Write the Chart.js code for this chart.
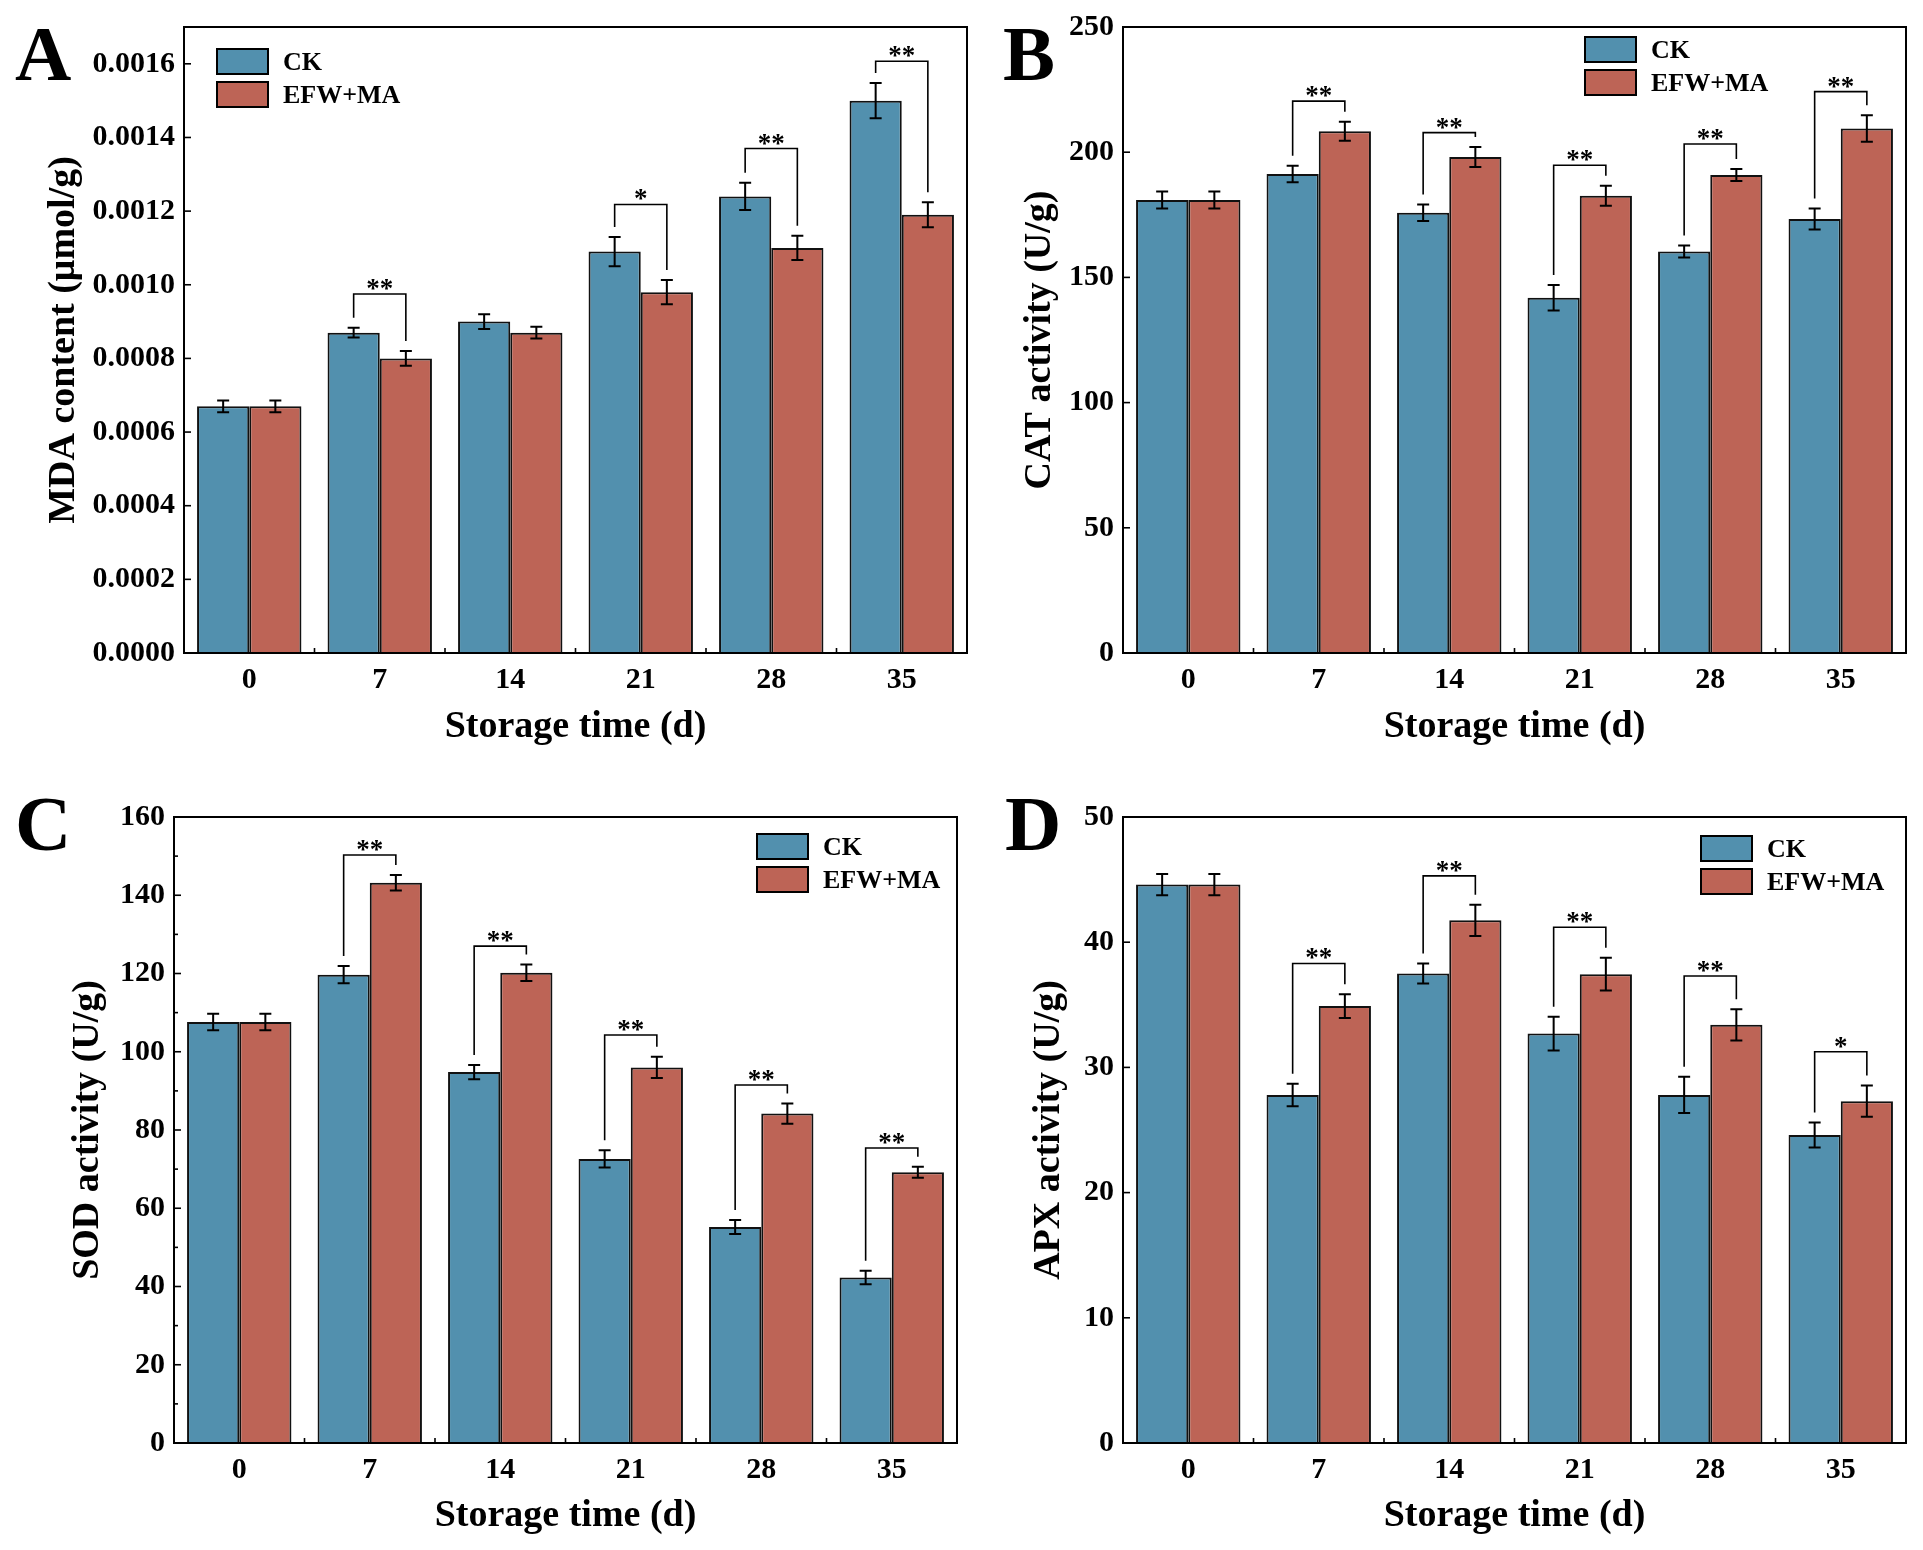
<!DOCTYPE html>
<html>
<head>
<meta charset="utf-8">
<script src="https://cdn.jsdelivr.net/npm/chart.js@4.4.1/dist/chart.umd.min.js"></script>
<style>
  html, body { margin: 0; padding: 0; background: #fff; }
  #wrap { position: relative; width: 1923px; height: 1550px; }
  canvas { position: absolute; }
</style>
</head>
<body>
<div id="wrap">
  <canvas id="cA" width="975" height="775" style="left:0;top:0"></canvas>
  <canvas id="cB" width="948" height="775" style="left:975px;top:0"></canvas>
  <canvas id="cC" width="975" height="775" style="left:0;top:775px"></canvas>
  <canvas id="cD" width="948" height="775" style="left:975px;top:775px"></canvas>
</div>
<script>
'use strict'

// storage days and groups
var days = ['0', '7', '14', '21', '28', '35'];
var groups = ['CK', 'EFW+MA'];

// A - MDA content (umol/g)
var mdaCK = [0.00067, 0.00087, 0.00090, 0.00109, 0.00124, 0.00150];
var mdaEFW = [0.00067, 0.00080, 0.00087, 0.00098, 0.00110, 0.00119];
var mdaCKErr = [0.000016, 0.000013, 0.00002, 0.00004, 0.000037, 0.000048];
var mdaEFWErr = [0.000016, 0.00002, 0.000016, 0.000033, 0.000033, 0.000034];
var mdaSig = ['', '**', '', '*', '**', '**'];
var mdaSigLevel = [null, 0.000975, null, 0.001218, 0.00137, 0.001607];

// B - CAT activity (U/g)
var catCK = [180.9, 191.3, 175.8, 141.9, 160.3, 173.3];
var catEFW = [180.9, 208.4, 198.1, 182.6, 190.9, 209.5];
var catCKErr = [3.4, 3.3, 3.3, 5.1, 2.4, 4.2];
var catEFWErr = [3.4, 3.8, 4.0, 4.0, 2.4, 5.3];
var catSig = ['', '**', '**', '**', '**', '**'];
var catSigLevel = [null, 220.4, 207.8, 194.8, 203.3, 224.2];

// C - SOD activity (U/g)
var sodCK = [107.6, 119.7, 94.8, 72.6, 55.2, 42.3];
var sodEFW = [107.6, 143.2, 120.2, 96.0, 84.2, 69.2];
var sodCKErr = [2.1, 2.2, 1.8, 2.2, 1.8, 1.7];
var sodEFWErr = [2.1, 2.0, 2.1, 2.7, 2.6, 1.4];
var sodSig = ['', '**', '**', '**', '**', '**'];
var sodSigLevel = [null, 150.3, 127.0, 104.3, 91.5, 75.4];

// D - APX activity (U/g)
var apxCK = [44.6, 27.8, 37.5, 32.7, 27.8, 24.6];
var apxEFW = [44.6, 34.9, 41.75, 37.45, 33.4, 27.3];
var apxCKErr = [0.85, 0.9, 0.8, 1.35, 1.45, 1.0];
var apxEFWErr = [0.85, 0.95, 1.25, 1.3, 1.25, 1.25];
var apxSig = ['', '**', '**', '**', '**', '*'];
var apxSigLevel = [null, 38.3, 45.3, 41.2, 37.3, 31.25];

var SERIF = "'Liberation Serif', 'Times New Roman', serif";
var BLUE = '#5290AE';
var RED = '#BD6456';

/* draws frame, inward ticks, error bars, brackets, legend, panel letter */
function decorPlugin(p) {
    return {
        id: 'decor',
        afterDraw: function (chart) {
            var ctx = chart.ctx;
            var a = chart.chartArea;
            var xs = chart.scales.x, ys = chart.scales.y;
            ctx.save();
            ctx.strokeStyle = '#000';
            ctx.fillStyle = '#000';
            ctx.lineCap = 'butt';

            // y ticks pointing inside
            ctx.lineWidth = 1.6;
            ys.ticks.forEach(function (t) {
                var py = ys.getPixelForValue(t.value);
                var len = (t.label === '' ? 4 : 7);
                if (t.label === null || t.label === undefined) return;
                ctx.beginPath();
                ctx.moveTo(a.left, py);
                ctx.lineTo(a.left + len, py);
                ctx.stroke();
            });
            // x ticks between categories
            for (var i = 0; i < days.length - 1; i++) {
                var bx = (xs.getPixelForValue(i) + xs.getPixelForValue(i + 1)) / 2;
                ctx.beginPath();
                ctx.moveTo(bx, a.bottom);
                ctx.lineTo(bx, a.bottom - 5);
                ctx.stroke();
            }

            // error bars
            var tops = [[], []];
            ctx.lineWidth = 2;
            chart.data.datasets.forEach(function (ds, di) {
                var meta = chart.getDatasetMeta(di);
                meta.data.forEach(function (bar, j) {
                    var v = ds.data[j], e = ds.err[j];
                    var t = ys.getPixelForValue(v + e), b = ys.getPixelForValue(v - e);
                    tops[di][j] = t;
                    ctx.beginPath();
                    ctx.moveTo(bar.x, t); ctx.lineTo(bar.x, b);
                    ctx.moveTo(bar.x - 6, t); ctx.lineTo(bar.x + 6, t);
                    ctx.moveTo(bar.x - 6, b); ctx.lineTo(bar.x + 6, b);
                    ctx.stroke();
                });
            });

            // significance brackets
            var m0 = chart.getDatasetMeta(0), m1 = chart.getDatasetMeta(1);
            ctx.lineWidth = 1.6;
            ctx.font = 'bold 27px ' + SERIF;
            ctx.textAlign = 'center';
            ctx.textBaseline = 'alphabetic';
            p.sig.forEach(function (s, j) {
                if (!s) return;
                var lx = m0.data[j].x, rx = m1.data[j].x;
                var ly = ys.getPixelForValue(p.level[j]);
                ctx.beginPath();
                ctx.moveTo(lx, tops[0][j] - 10);
                ctx.lineTo(lx, ly);
                ctx.lineTo(rx, ly);
                ctx.lineTo(rx, tops[1][j] - 10);
                ctx.stroke();
                ctx.fillText(s, (lx + rx) / 2, ly + 3);
            });

            // plot frame
            ctx.lineWidth = 2;
            ctx.strokeRect(a.left, a.top, a.right - a.left, a.bottom - a.top);

            // legend
            var lx0 = p.legRight ? a.right - p.legX : a.left + p.legX;
            var ly0 = a.top + p.legY;
            ctx.font = 'bold 26px ' + SERIF;
            ctx.textAlign = 'left';
            ctx.textBaseline = 'middle';
            chart.data.datasets.forEach(function (ds, di) {
                var by = ly0 + di * 33;
                ctx.fillStyle = ds.backgroundColor;
                ctx.fillRect(lx0, by, 51, 25);
                ctx.lineWidth = 2;
                ctx.strokeRect(lx0, by, 51, 25);
                ctx.fillStyle = '#000';
                ctx.fillText(ds.label, lx0 + 66, by + 14);
            });

            // panel letter
            ctx.font = 'bold 78px ' + SERIF;
            ctx.textBaseline = 'alphabetic';
            ctx.fillText(p.letter, p.letterX, p.letterY);
            ctx.restore();
        }
    };
}

function makePanel(id, p) {
    var tickFont = { family: SERIF, size: 30, weight: 'bold' };
    var titleFont = { family: SERIF, size: 38, weight: 'bold' };
    return new Chart(document.getElementById(id), {
        type: 'bar',
        data: {
            labels: days,
            datasets: [
                { label: groups[0], data: p.ck, err: p.ckErr, backgroundColor: BLUE,
                  borderColor: '#111', borderWidth: 2, borderSkipped: 'bottom' },
                { label: groups[1], data: p.efw, err: p.efwErr, backgroundColor: RED,
                  borderColor: '#111', borderWidth: 2, borderSkipped: 'bottom' }
            ]
        },
        options: {
            responsive: false,
            animation: false,
            devicePixelRatio: 1,
            categoryPercentage: 0.8,
            barPercentage: 1.0,
            layout: { padding: { top: p.padTop, right: p.padRight, left: 0, bottom: 0 } },
            plugins: { legend: { display: false }, tooltip: { enabled: false } },
            scales: {
                x: {
                    offset: true,
                    grid: { display: false, drawTicks: false },
                    border: { display: false },
                    ticks: { font: tickFont, color: '#000', padding: 9 },
                    title: { display: true, text: 'Storage time (d)', font: titleFont, color: '#000',
                             padding: { top: 0, bottom: p.xTitlePad } },
                    afterFit: function (s) { s.height = p.xHeight; }
                },
                y: {
                    min: 0,
                    max: p.max,
                    ticks: {
                        stepSize: p.step,
                        font: tickFont,
                        color: '#000',
                        padding: 9,
                        callback: p.fmt
                    },
                    grid: { display: false, drawTicks: false },
                    border: { display: false },
                    title: { display: true, text: p.yTitle, font: titleFont, color: '#000',
                             padding: { top: p.yTitlePad, bottom: 0 } },
                    afterFit: function (s) { s.width = p.yWidth; }
                }
            }
        },
        plugins: [decorPlugin(p)]
    });
}

function near(v, step) {
    return Math.abs(v / step - Math.round(v / step)) < 1e-6;
}

makePanel('cA', {
    ck: mdaCK, efw: mdaEFW, ckErr: mdaCKErr, efwErr: mdaEFWErr,
    sig: mdaSig, level: mdaSigLevel,
    max: 0.0017, step: 0.0001,
    fmt: function (v) { return near(v, 0.0002) ? v.toFixed(4) : null; },
    yTitle: 'MDA content (\u03bcmol/g)',
    padTop: 27, padRight: 8, yWidth: 184, xHeight: 122, xTitlePad: 25, yTitlePad: 41,
    legRight: false, legX: 33, legY: 22,
    letter: 'A', letterX: 15, letterY: 80
});

makePanel('cB', {
    ck: catCK, efw: catEFW, ckErr: catCKErr, efwErr: catEFWErr,
    sig: catSig, level: catSigLevel,
    max: 250, step: 50,
    fmt: function (v) { return String(Math.round(v)); },
    yTitle: 'CAT activity (U/g)',
    padTop: 27, padRight: 17, yWidth: 148, xHeight: 122, xTitlePad: 25, yTitlePad: 42,
    legRight: true, legX: 321, legY: 10,
    letter: 'B', letterX: 28, letterY: 80
});

makePanel('cC', {
    ck: sodCK, efw: sodEFW, ckErr: sodCKErr, efwErr: sodEFWErr,
    sig: sodSig, level: sodSigLevel,
    max: 160, step: 10,
    fmt: function (v) { return near(v, 20) ? String(Math.round(v)) : ''; },
    yTitle: 'SOD activity (U/g)',
    padTop: 42, padRight: 18, yWidth: 174, xHeight: 107, xTitlePad: 11, yTitlePad: 65,
    legRight: true, legX: 200, legY: 17,
    letter: 'C', letterX: 15, letterY: 75
});

makePanel('cD', {
    ck: apxCK, efw: apxEFW, ckErr: apxCKErr, efwErr: apxEFWErr,
    sig: apxSig, level: apxSigLevel,
    max: 50, step: 10,
    fmt: function (v) { return String(Math.round(v)); },
    yTitle: 'APX activity (U/g)',
    padTop: 42, padRight: 17, yWidth: 148, xHeight: 107, xTitlePad: 11, yTitlePad: 51,
    legRight: true, legX: 205, legY: 19,
    letter: 'D', letterX: 30, letterY: 75
});
</script>
</body>
</html>
